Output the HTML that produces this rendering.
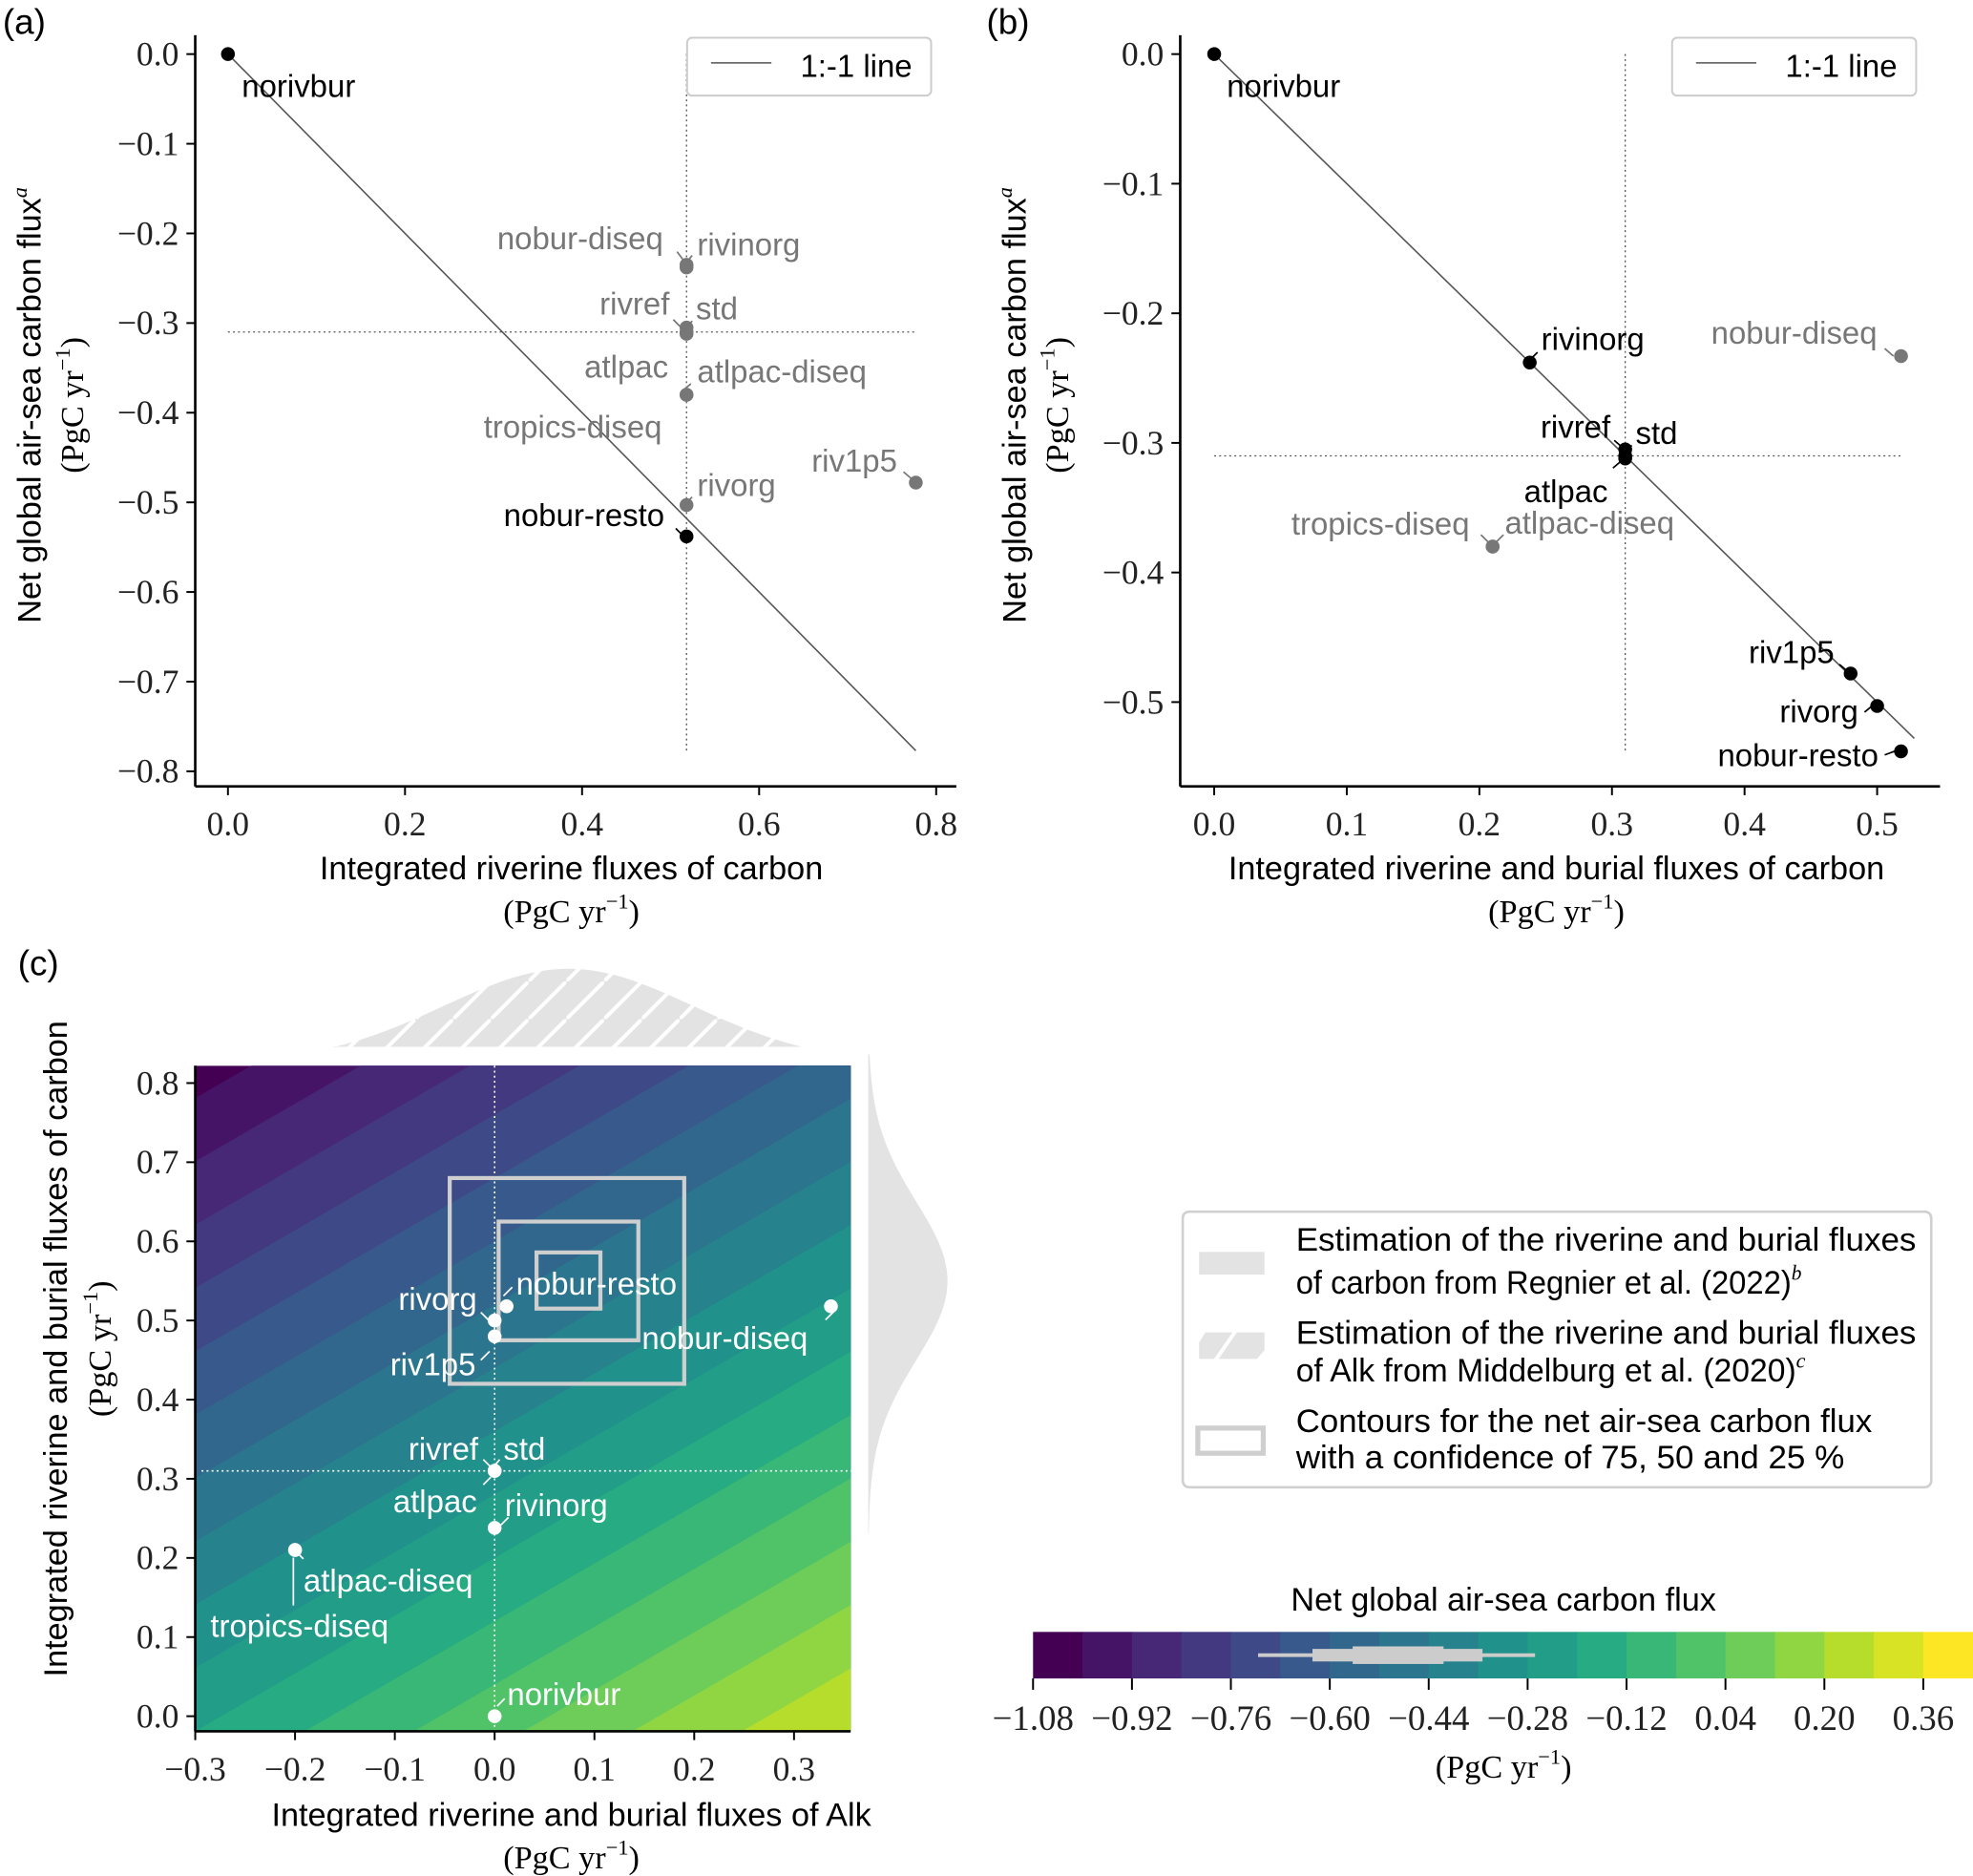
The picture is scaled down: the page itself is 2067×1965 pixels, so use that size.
<!DOCTYPE html>
<html><head><meta charset="utf-8">
<style>
html,body{margin:0;padding:0;background:#fff;}
svg{display:block;}
.t{font-family:"Liberation Sans","DejaVu Sans",sans-serif;}
.s{font-family:"Liberation Serif","DejaVu Serif",serif;}
</style></head>
<body>
<svg id="fig" width="2067" height="1965" viewBox="0 0 1568 1491" xmlns="http://www.w3.org/2000/svg">
<defs>
<clipPath id="clipC"><rect x="155" y="847" width="521" height="529"/></clipPath>
<pattern id="hatch" patternUnits="userSpaceOnUse" width="30" height="30">
<rect width="30" height="30" fill="#e3e3e3"/>
<path d="M-8,38 L38,-8" stroke="#fff" stroke-width="3"/>
</pattern>
</defs>
<g id="root"></g>
</svg>
<script>
// ---------- Data ----------
var expNames = ["norivbur","nobur-diseq","rivinorg","rivref","std","atlpac","atlpac-diseq","tropics-diseq","riv1p5","rivorg","nobur-resto"];
var aX = [0,0.518,0.518,0.518,0.518,0.518,0.518,0.518,0.777,0.518,0.518];
var aY = [0,-0.235,-0.238,-0.305,-0.31,-0.312,-0.38,-0.38,-0.478,-0.503,-0.538];
var aBlack = [1,0,0,0,0,0,0,0,0,0,1];
var bX = [0,0.518,0.238,0.31,0.31,0.31,0.21,0.21,0.48,0.5,0.518];
var bY = [0,-0.233,-0.238,-0.305,-0.31,-0.312,-0.38,-0.38,-0.478,-0.503,-0.538];
var bBlack = [1,0,1,1,1,1,0,0,1,1,1];
var cX = [0,0.337,0,0,0,0,-0.2,-0.2,0,0,0.012];
var cY = [0,0.518,0.238,0.31,0.31,0.31,0.21,0.21,0.48,0.5,0.518];
var aXTicks = [0,0.2,0.4,0.6,0.8];
var aYTicks = [0,-0.1,-0.2,-0.3,-0.4,-0.5,-0.6,-0.7,-0.8];
var bXTicks = [0,0.1,0.2,0.3,0.4,0.5];
var bYTicks = [0,-0.1,-0.2,-0.3,-0.4,-0.5];
var cXTicks = [-0.3,-0.2,-0.1,0,0.1,0.2,0.3];
var cYTicks = [0,0.1,0.2,0.3,0.4,0.5,0.6,0.7,0.8];
var alkCoef = 0.73;
var levelMin = -1.08, levelStep = 0.08, levelCount = 19;
var cbTicks = [-1.08,-0.92,-0.76,-0.60,-0.44,-0.28,-0.12,0.04,0.20,0.36];
var refLineA = 0.31, refLineB = 0.31;
var boxesC = [[-0.045,0.19,0.42,0.68],[0.004,0.144,0.475,0.625],[0.042,0.106,0.515,0.586]];
var boxStats = [-0.716,-0.628,-0.563,-0.416,-0.353,-0.268];
var topMean = 0.074, topSd = 0.125;
var rightMean = 0.55, rightSd = 0.1;

// ---------- helpers ----------
var NS="http://www.w3.org/2000/svg";
var root=document.getElementById('root');
function el(tag,attrs,parent){var e=document.createElementNS(NS,tag);for(var k in attrs)e.setAttribute(k,attrs[k]);(parent||root).appendChild(e);return e;}
function txt(str,x,y,size,cls,anchor,fill,parent){var e=el('text',{x:x,y:y,'font-size':size,'class':cls,'text-anchor':anchor||'start',fill:fill||'#000'},parent);e.textContent=str;return e;}
function fmt(v,d){var s=Math.abs(v).toFixed(d);return (v<-1e-9?'\u2212':'')+s;}
var UNITS='(PgC yr<tspan font-size="17" dy="-11">\u22121</tspan><tspan dy="11">)</tspan>';
var TF=27, LF=25, AF=26;

var axA={x:function(v){return 181+v*703.75;},y:function(v){return 43-v*712.5;}};
var axB={x:function(v){return 965+v*1054;},y:function(v){return 43-v*1030;}};
var axC={x:function(v){return 393+v*793.3;},y:function(v){return 1364-v*629;}};

function spines(x0,y1,x1,y0){
  var g=el('g',{});
  
  el('line',{x1:x0,y1:y0,x2:x0,y2:y1,stroke:'#000','stroke-width':2},g);
  el('line',{x1:x0,y1:y1,x2:x1,y2:y1,stroke:'#000','stroke-width':2},g);
}
function ticks(ax,xt,yt,xd,yd,x0,ybot,name){
  var g=el('g',{});
  
  xt.forEach(function(v){var px=ax.x(v);el('line',{x1:px,y1:ybot,x2:px,y2:ybot+7,stroke:'#000','stroke-width':1.5},g);
    var t=txt(fmt(v,xd),px,ybot+39,TF,'s','middle','#222',g);});
  yt.forEach(function(v){var py=ax.y(v);el('line',{x1:x0-7,y1:py,x2:x0,y2:py,stroke:'#000','stroke-width':1.5},g);
    var t=txt(fmt(v,yd),x0-13,py+9,TF,'s','end','#222',g);});
}
function label(str,x,y,anchor,fill,name){var t=txt(str,x,y,LF,'t',anchor,fill);return t;}
function leader(x1,y1,x2,y2,col){var l=el('line',{x1:x1,y1:y1,x2:x2,y2:y2,stroke:col,'stroke-width':1.3});}
function ytitle(str,x,y,name,sup){var t=txt('',0,0,AF,'t','middle','#000');t.setAttribute('transform','translate('+x+','+y+') rotate(-90)');
  t.innerHTML=str+(sup?'<tspan font-size="17" dy="-11" class="s" font-style="italic">a</tspan>':'');}
function yunits(x,y,name){var t=txt('',0,0,AF,'s','middle','#000');t.setAttribute('transform','translate('+x+','+y+') rotate(-90)');
  t.innerHTML=UNITS;}
function xtitle(str,x,y,name){var t=txt(str,x,y,AF,'t','middle','#000');}
function xunits(x,y,name){var t=txt('',x,y,AF,'s','middle','#000');t.innerHTML=UNITS;}

[['(a)',2,27],['(b)',784,27],['(c)',14,775]].forEach(function(p){var t=txt(p[0],p[1],p[2],28,'t','start','#000');});

// ---------- Panel A ----------
(function(){
  var ax=axA;
  spines(155,625,760,28);
  ticks(ax,aXTicks,aYTicks,1,1,155,625,'panel-a');
  var l=el('line',{x1:ax.x(0),y1:ax.y(0),x2:ax.x(0.777),y2:ax.y(-0.777),stroke:'#555','stroke-width':1.2});
  
  var v=el('line',{x1:ax.x(0.518),y1:ax.y(0),x2:ax.x(0.518),y2:ax.y(-0.78),stroke:'#555','stroke-width':1,'stroke-dasharray':'1.5,2.5'});
  
  var h=el('line',{x1:ax.x(0),y1:ax.y(-refLineA),x2:ax.x(0.777),y2:ax.y(-refLineA),stroke:'#555','stroke-width':1,'stroke-dasharray':'1.5,2.5'});
  
  for(var i=0;i<expNames.length;i++){
    var c=el('circle',{cx:ax.x(aX[i]),cy:ax.y(aY[i]),r:5.5,fill:aBlack[i]?'#000':'#777'});
    
    
  }
  var G='#777';
  label('norivbur',192,77,'start','#000','label-norivbur');
  label('nobur-diseq',527,198,'end',G,'label-nobur-diseq');
  label('rivinorg',554,203,'start',G,'label-rivinorg');
  label('rivref',532,250,'end',G,'label-rivref');
  label('std',553,254,'start',G,'label-std');
  label('atlpac',531,300,'end',G,'label-atlpac');
  label('atlpac-diseq',554,304,'start',G,'label-atlpac-diseq');
  label('tropics-diseq',526,348,'end',G,'label-tropics-diseq');
  label('rivorg',554,394,'start',G,'label-rivorg');
  label('riv1p5',713,375,'end',G,'label-riv1p5');
  label('nobur-resto',528,418,'end','#000','label-nobur-resto');
  leader(538,200,544,208,G);leader(550,203,546,208,G);leader(535,254,542,261,G);leader(550,255,546,261,G);
  leader(549,305,542,311,G);leader(550,395,544,401,G);leader(718,375,725,381,G);leader(537,420,543,426,'#000');
  var lg=el('g',{});
  el('rect',{x:546,y:30,width:194,height:46,rx:4,fill:'#fff',stroke:'#ccc','stroke-width':1.5},lg);
  el('line',{x1:565,y1:50,x2:613,y2:50,stroke:'#555','stroke-width':1.2},lg);
  txt('1:-1 line',636,61,25,'t','start','#000',lg);
  ytitle('Net global air-sea carbon flux',32,322,'y-axis-title-a',true);
  yunits(66,322,'y-axis-units-a');
  xtitle('Integrated riverine fluxes of carbon',454,699,'x-axis-title-a');
  xunits(454,733,'x-axis-units-a');
})();

// ---------- Panel B ----------
(function(){
  var ax=axB;
  spines(938,625,1542,28);
  ticks(ax,bXTicks,bYTicks,1,1,938,625,'panel-b');
  var l=el('line',{x1:ax.x(0),y1:ax.y(0),x2:ax.x(0.528),y2:ax.y(-0.528),stroke:'#555','stroke-width':1.2});
  
  var v=el('line',{x1:ax.x(refLineB),y1:ax.y(0),x2:ax.x(refLineB),y2:ax.y(-0.538),stroke:'#555','stroke-width':1,'stroke-dasharray':'1.5,2.5'});
  
  var h=el('line',{x1:ax.x(0),y1:ax.y(-0.31),x2:ax.x(0.518),y2:ax.y(-0.31),stroke:'#555','stroke-width':1,'stroke-dasharray':'1.5,2.5'});
  
  for(var i=0;i<expNames.length;i++){
    var c=el('circle',{cx:ax.x(bX[i]),cy:ax.y(bY[i]),r:5.5,fill:bBlack[i]?'#000':'#777'});
    
    
  }
  var G='#777';
  label('norivbur',975,77,'start','#000','label-norivbur');
  label('rivinorg',1225,278,'start','#000','label-rivinorg');
  label('nobur-diseq',1492,273,'end',G,'label-nobur-diseq');
  label('rivref',1280,348,'end','#000','label-rivref');
  label('std',1300,353,'start','#000','label-std');
  label('atlpac',1278,399,'end','#000','label-atlpac');
  label('tropics-diseq',1168,425,'end',G,'label-tropics-diseq');
  label('atlpac-diseq',1196,424,'start',G,'label-atlpac-diseq');
  label('riv1p5',1458,527,'end','#000','label-riv1p5');
  label('rivorg',1477,574,'end','#000','label-rivorg');
  label('nobur-resto',1493,609,'end','#000','label-nobur-resto');
  leader(1222,280,1217,285,'#000');leader(1498,277,1505,283,G);leader(1283,350,1290,356,'#000');leader(1297,354,1292,358,'#000');
  leader(1282,372,1289,366,'#000');leader(1177,425,1183,431,G);leader(1195,425,1189,431,G);leader(1462,528,1469,534,'#000');
  leader(1482,566,1488,561,'#000');leader(1498,600,1506,597,'#000');
  var lg=el('g',{});
  el('rect',{x:1329,y:30,width:194,height:46,rx:4,fill:'#fff',stroke:'#ccc','stroke-width':1.5},lg);
  el('line',{x1:1348,y1:50,x2:1396,y2:50,stroke:'#555','stroke-width':1.2},lg);
  txt('1:-1 line',1419,61,25,'t','start','#000',lg);
  ytitle('Net global air-sea carbon flux',815,322,'y-axis-title-b',true);
  yunits(849,322,'y-axis-units-b');
  xtitle('Integrated riverine and burial fluxes of carbon',1237,699,'x-axis-title-b');
  xunits(1237,733,'x-axis-units-b');
})();

// ---------- viridis ----------
var VIR=[[68,1,84],[72,36,117],[65,68,135],[53,95,141],[42,120,142],[33,145,140],[34,168,132],[68,191,112],[122,209,81],[189,223,38],[253,231,37]];
function viridis(t){t=Math.max(0,Math.min(1,t));var f=t*(VIR.length-1),i=Math.min(Math.floor(f),VIR.length-2),u=f-i;
  var c=VIR[i].map(function(a,k){return Math.round(a+(VIR[i+1][k]-a)*u);});return 'rgb('+c.join(',')+')';}
function bandColor(i){return viridis(i/(levelCount-1));}

// ---------- Panel C ----------
(function(){
  var ax=axC;
  var xmin=-0.3327,xmax=0.3575,ymin=-0.019,ymax=0.823;
  var pts=[];for(var k=0;k<=120;k++){var xv=topMean-3*topSd+k*6*topSd/120;var g=Math.exp(-0.5*Math.pow((xv-topMean)/topSd,2));pts.push([ax.x(xv),845-g*75]);}
  var d='M'+pts[0][0]+',832 ';pts.forEach(function(p){d+='L'+p[0]+','+Math.min(p[1],832)+' ';});d+='L'+pts[pts.length-1][0]+',832 Z';
  var tm=el('path',{d:d,fill:'url(#hatch)'});
  pts=[];for(k=0;k<=120;k++){var yv=rightMean-3.2*rightSd+k*6.4*rightSd/120;var g2=Math.exp(-0.5*Math.pow((yv-rightMean)/rightSd,2));pts.push([690+g2*63,Math.max(ax.y(yv),838)]);}
  d='M690,'+pts[0][1]+' ';pts.forEach(function(p){d+='L'+p[0]+','+p[1]+' ';});d+='L690,'+pts[pts.length-1][1]+' Z';
  var rm=el('path',{d:d,fill:'#e3e3e3'});
  var cg=el('g',{'clip-path':'url(#clipC)'});
  var rect=[[xmin,ymin],[xmax,ymin],[xmax,ymax],[xmin,ymax]];
  function f(p){return alkCoef*p[0]-p[1];}
  function clip(poly,L){var out=[];for(var i=0;i<poly.length;i++){var a=poly[i],b=poly[(i+1)%poly.length];var fa=f(a)-L,fb=f(b)-L;
    if(fa>=0)out.push(a);if((fa>=0)!==(fb>=0)){var t=fa/(fa-fb);out.push([a[0]+(b[0]-a[0])*t,a[1]+(b[1]-a[1])*t]);}}return out;}
  el('rect',{x:155,y:847,width:521,height:529,fill:bandColor(0)},cg);
  for(var i=1;i<levelCount;i++){
    var L=levelMin+i*levelStep;var poly=clip(rect,L);if(poly.length<3)continue;
    var p=el('polygon',{points:poly.map(function(q){return ax.x(q[0])+','+ax.y(q[1]);}).join(' '),fill:bandColor(i)},cg);
    
    
  }
  var v=el('line',{x1:ax.x(0),y1:847,x2:ax.x(0),y2:1376,stroke:'#fff','stroke-width':1.2,'stroke-dasharray':'1.5,2.5'});
  var h=el('line',{x1:160,y1:ax.y(0.31),x2:690,y2:ax.y(0.31),stroke:'#fff','stroke-width':1.2,'stroke-dasharray':'1.5,2.5'});
  boxesC.forEach(function(b,j){var r=el('rect',{x:ax.x(b[0]),y:ax.y(b[3]),width:ax.x(b[1])-ax.x(b[0]),height:ax.y(b[2])-ax.y(b[3]),fill:'none',stroke:'#cfcfcf','stroke-width':3.2});
    });
  spines(155,1376,676,847);
  ticks(ax,cXTicks,cYTicks,1,1,155,1376,'panel-c');
  for(var i2=0;i2<expNames.length;i2++){
    var c=el('circle',{cx:ax.x(cX[i2]),cy:ax.y(cY[i2]),r:5.5,fill:'#fff'});
    
    
  }
  var W='#fff';
  label('rivorg',379,1041,'end',W,'label-rivorg');
  label('nobur-resto',410,1029,'start',W,'label-nobur-resto');
  label('nobur-diseq',510,1072,'start',W,'label-nobur-diseq');
  label('riv1p5',378,1093,'end',W,'label-riv1p5');
  label('rivref',380,1160,'end',W,'label-rivref');
  label('std',400,1160,'start',W,'label-std');
  label('atlpac',379,1202,'end',W,'label-atlpac');
  label('rivinorg',401,1205,'start',W,'label-rivinorg');
  label('atlpac-diseq',241,1265,'start',W,'label-atlpac-diseq');
  label('tropics-diseq',167,1301,'start',W,'label-tropics-diseq');
  label('norivbur',403,1355,'start',W,'label-norivbur');
  leader(382,1043,389,1050,W);leader(400,1030,407,1023,W);leader(382,1081,389,1074,W);leader(663,1042,656,1049,W);
  leader(384,1160,390,1166,W);leader(397,1160,392,1166,W);leader(384,1180,390,1174,W);leader(398,1212,404,1206,W);
  leader(235,1233,241,1239,W);leader(233,1238,233,1276,W);leader(395,1356,401,1350,W);
  ytitle('Integrated riverine and burial fluxes of carbon',53,1072,'y-axis-title-c',false);
  yunits(88,1072,'y-axis-units-c');
  xtitle('Integrated riverine and burial fluxes of Alk',454,1451,'x-axis-title-c');
  xunits(454,1485,'x-axis-units-c');
})();

// ---------- Legend C ----------
(function(){
  var g=el('g',{});
  el('rect',{x:940,y:963,width:595,height:219,rx:5,fill:'#fff',stroke:'#d0d0d0','stroke-width':2},g);
  el('rect',{x:953,y:995,width:52,height:18,fill:'#e3e3e3'},g);
  el('path',{d:'M953,1067 L958,1059 L1005,1059 L1005,1073 L999,1080 L953,1080 Z',fill:'#e3e3e3'},g);
  el('line',{x1:966,y1:1081,x2:982,y2:1058,stroke:'#fff','stroke-width':3},g);
  el('rect',{x:952,y:1135,width:52,height:20,fill:'none',stroke:'#cfcfcf','stroke-width':4},g);
  function lt(s,y,w,html){var t=txt('',1030,y,26,'t','start','#000',g);if(html)t.innerHTML=s;else t.textContent=s;t.setAttribute('textLength',w);t.setAttribute('lengthAdjust','spacingAndGlyphs');return t;}
  lt('Estimation of the riverine and burial fluxes',994,493);
  lt('of carbon from Regnier et al. (2022)<tspan font-size="17" dy="-11" class="s" font-style="italic">b</tspan>',1028,212+190,true);
  lt('Estimation of the riverine and burial fluxes',1068,493);
  lt('of Alk from Middelburg et al. (2020)<tspan font-size="17" dy="-11" class="s" font-style="italic">c</tspan>',1098,405,true);
  lt('Contours for the net air-sea carbon flux',1138,458);
  lt('with a confidence of 75, 50 and 25 %',1167,436);
})();

// ---------- Colorbar ----------
(function(){
  var g=el('g',{});
  var x0=821,x1=1568,y0=1297,h=37;
  function cx(v){return x0+(v-levelMin)/(levelStep*levelCount)*(x1-x0);}
  for(var i=0;i<levelCount;i++){
    var r=el('rect',{x:cx(levelMin+i*levelStep),y:y0,width:cx(levelMin+(i+1)*levelStep)-cx(levelMin+i*levelStep)+0.5,height:h,fill:bandColor(i)},g);
    
    
  }
  var by=y0+h/2;
  el('line',{x1:cx(boxStats[0]),y1:by,x2:cx(boxStats[5]),y2:by,stroke:'#ccc','stroke-width':3},g);
  el('rect',{x:cx(boxStats[1]),y:by-5,width:cx(boxStats[4])-cx(boxStats[1]),height:10,fill:'#ccc'},g);
  el('rect',{x:cx(boxStats[2]),y:by-7,width:cx(boxStats[3])-cx(boxStats[2]),height:14,fill:'#ccc'},g);
  cbTicks.forEach(function(v){var px=cx(v);el('line',{x1:px,y1:y0+h,x2:px,y2:y0+h+9,stroke:'#000','stroke-width':1.5},g);
    var t=txt(fmt(v,2),px,y0+h+41,28,'s','middle','#222',g);});
  var t1=txt('Net global air-sea carbon flux',1195,1280,26,'t','middle','#000');
  var t2=txt('',1195,1413,AF,'s','middle','#000');t2.innerHTML=UNITS;
  
})();
</script>
</body></html>
